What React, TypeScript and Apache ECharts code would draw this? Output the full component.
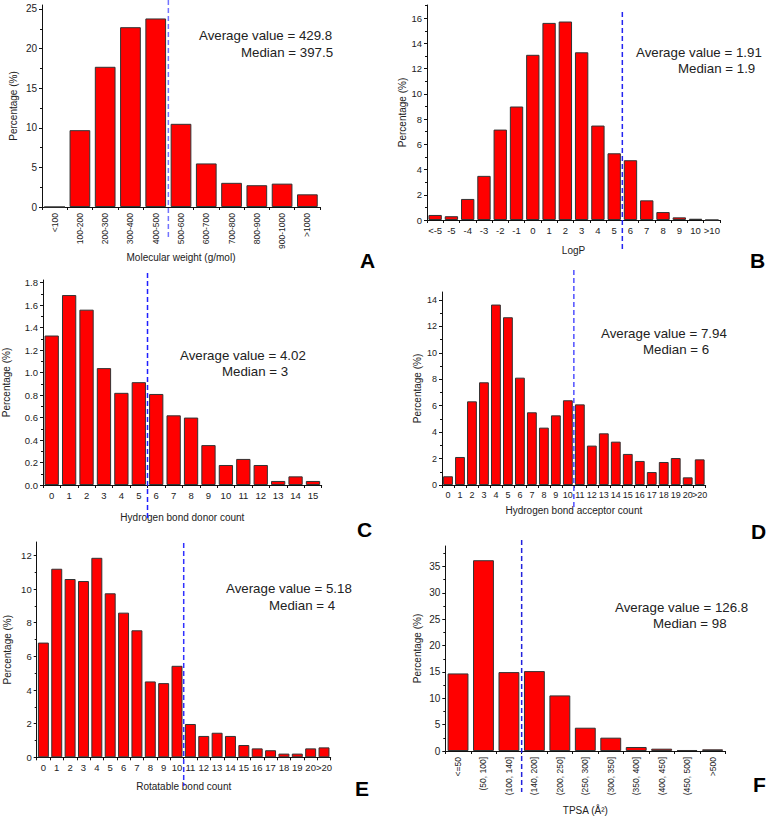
import React, { useEffect, useRef } from "react";
import * as echarts from "echarts";

// ---------- data ----------
const mwCats = ["<100", "100-200", "200-300", "300-400", "400-500", "500-600", "600-700", "700-800", "800-900", "900-1000", ">1000"];
const mwVals = [0, 9.7, 17.7, 22.7, 23.8, 10.5, 5.5, 3.05, 2.75, 2.95, 1.6];

const logpCats = ["<-5", "-5", "-4", "-3", "-2", "-1", "0", "1", "2", "3", "4", "5", "6", "7", "8", "9", "10", ">10"];
const logpVals = [0.4, 0.3, 1.67, 3.5, 7.17, 9.0, 13.1, 15.63, 15.74, 13.3, 7.49, 5.29, 4.74, 1.56, 0.63, 0.21, 0.1, 0];

const hbdCats = ["0", "1", "2", "3", "4", "5", "6", "7", "8", "9", "10", "11", "12", "13", "14", "15"];
const hbdVals = [1.33, 1.69, 1.56, 1.04, 0.82, 0.915, 0.81, 0.62, 0.6, 0.355, 0.178, 0.232, 0.178, 0.036, 0.077, 0.036];

const hbaCats = ["0", "1", "2", "3", "4", "5", "6", "7", "8", "9", "10", "11", "12", "13", "14", "15", "16", "17", "18", "19", "20", ">20"];
const hbaVals = [0.66, 2.12, 6.33, 7.77, 13.65, 12.69, 8.12, 5.5, 4.34, 5.27, 6.41, 6.1, 2.98, 3.91, 3.28, 2.35, 1.82, 0.98, 1.74, 2.04, 0.58, 1.94];

const rbCats = ["0", "1", "2", "3", "4", "5", "6", "7", "8", "9", "10", "11", "12", "13", "14", "15", "16", "17", "18", "19", "20", ">20"];
const rbVals = [6.82, 11.21, 10.6, 10.48, 11.86, 9.75, 8.6, 7.55, 4.51, 4.41, 5.44, 1.98, 1.27, 1.46, 1.27, 0.73, 0.53, 0.42, 0.22, 0.22, 0.53, 0.59];

const tpsaCats = ["<=50", "(50, 100]", "(100, 140]", "(140, 200]", "(200, 250]", "(250, 300]", "(300, 350]", "(350, 400]", "(400, 450]", "(450, 500]", ">500"];
const tpsaVals = [14.72, 36.2, 14.97, 15.16, 10.55, 4.42, 2.53, 0.76, 0.44, 0.19, 0.32];

const xNames = ["Molecular weight (g/mol)", "LogP", "Hydrogen bond donor count", "Hydrogen bond acceptor count", "Rotatable bond count", "TPSA (Å²)"];
const averages = ["429.8", "1.91", "4.02", "7.94", "5.18", "126.8"];
const medians = ["397.5", "1.9", "3", "6", "4", "98"];
const letters = ["A", "B", "C", "D", "E", "F"];
// dashed line sits after this category index (between index and index+1)
const lineAfter = [4, 11, 5, 10, 10, 2];
// y tick labels: last labelled tick and step
const yTickMax = [25, 16, 1.8, 14, 12, 35];
const yStep = [5, 2, 0.2, 2, 2, 5];
// value where each y axis line ends
const yAxisTop = [25.5, 17.05, 1.824, 14.6, 12.8, 38.9];

const cats = [mwCats, logpCats, hbdCats, hbaCats, rbCats, tpsaCats];
const vals = [mwVals, logpVals, hbdVals, hbaVals, rbVals, tpsaVals];

// ---------- layout (style only) ----------
const FONT = "Liberation Sans, Arial, sans-serif";
const layout = [
  { left: 42, top: 5, bottom: 207, right: 320, rot: 90, xFs: 8.5, yFs: 10, xGap: 45, yGap: 24, lineColor: "#7373ff", lineTop: 0, lineBottom: 240,
    avg: [199, 35], med: [241, 52], letter: [360, 260] },
  { left: 427, top: 5, bottom: 220, right: 720, rot: 0, xFs: 9.5, yFs: 9.5, xGap: 25, yGap: 20, lineColor: "#2424f0", lineTop: 12, lineBottom: 252,
    avg: [636, 52], med: [678, 68], letter: [750, 260] },
  { left: 42.7, top: 280, bottom: 485, right: 321.7, rot: 0, xFs: 9.5, yFs: 9.5, xGap: 27, yGap: 32, lineColor: "#1f1fff", lineTop: 273, lineBottom: 518,
    avg: [180, 355], med: [222, 371], letter: [357, 529] },
  { left: 442, top: 292, bottom: 485, right: 705.7, rot: 0, xFs: 9, yFs: 9, xGap: 20, yGap: 20, lineColor: "#5050ff", lineTop: 270, lineBottom: 510,
    avg: [601, 333], med: [643, 349], letter: [751, 531] },
  { left: 36.7, top: 542, bottom: 757.3, right: 330.7, rot: 0, xFs: 9.5, yFs: 9.5, xGap: 24, yGap: 24, lineColor: "#3030ff", lineTop: 543, lineBottom: 786,
    avg: [226, 588], med: [269, 605], letter: [355, 788] },
  { left: 445.3, top: 546, bottom: 751, right: 725.3, rot: 90, xFs: 8.5, yFs: 10, xGap: 54, yGap: 23, lineColor: "#2222dd", lineTop: 540, lineBottom: 792,
    avg: [615, 607], med: [653, 623], letter: [753, 784] },
];

function tickList(max: number, step: number) {
  const out: number[] = [];
  const n = Math.round(max / step);
  for (let k = 0; k <= n; k++) out.push(Math.round(k * step * 1000) / 1000);
  return out;
}

export default function App() {
  const ref = useRef<HTMLDivElement>(null);
  useEffect(() => {
    if (!ref.current) return;
    const chart = echarts.init(ref.current, undefined, { renderer: "svg" });
    const grids: any[] = [];
    const xAxes: any[] = [];
    const yAxes: any[] = [];
    const series: any[] = [];
    layout.forEach((L, i) => {
      grids.push({ left: L.left, top: L.top, width: L.right - L.left, height: L.bottom - L.top, containLabel: false });
      xAxes.push({
        type: "category",
        gridIndex: i,
        data: cats[i],
        boundaryGap: true,
        name: xNames[i],
        nameLocation: "middle",
        nameGap: L.xGap,
        nameTextStyle: { fontFamily: FONT, fontSize: 10, color: "#222" },
        axisLine: { lineStyle: { color: "#111", width: 1 } },
        axisTick: { show: true, length: 3, alignWithLabel: false, interval: 0, lineStyle: { color: "#111" } },
        axisLabel: { interval: 0, rotate: L.rot, margin: L.rot ? 6 : 5, fontFamily: FONT, fontSize: L.xFs, color: "#222", hideOverlap: false },
        splitLine: { show: false },
      });
      const ticks = tickList(yTickMax[i], yStep[i]);
      yAxes.push({
        type: "value",
        gridIndex: i,
        min: 0,
        max: yAxisTop[i],
        interval: yStep[i],
        name: "Percentage (%)",
        nameLocation: "middle",
        nameGap: L.yGap,
        nameTextStyle: { fontFamily: FONT, fontSize: 10, color: "#222" },
        axisLine: { show: true, lineStyle: { color: "#111", width: 1 } },
        axisTick: { show: true, length: 3, customValues: ticks, lineStyle: { color: "#111" } },
        minorTick: { show: true, splitNumber: 2, length: 2, lineStyle: { color: "#111" } },
        axisLabel: {
          margin: 5,
          fontFamily: FONT,
          fontSize: L.yFs,
          color: "#222",
          customValues: ticks,
          formatter: (v: number) => (i === 2 ? v.toFixed(1) : String(Math.round(v * 100) / 100)),
        },
        splitLine: { show: false },
      });
      series.push({
        type: "bar",
        xAxisIndex: i,
        yAxisIndex: i,
        data: vals[i],
        barCategoryGap: "18%",
        itemStyle: { color: "#ff0000", borderColor: "#333", borderWidth: 1 },
        silent: true,
      });
    });

    chart.setOption({
      animation: false,
      backgroundColor: "#fff",
      grid: grids,
      xAxis: xAxes,
      yAxis: yAxes,
      series,
    });

    const graphics: any[] = [];
    layout.forEach((L, i) => {
      const c = cats[i];
      const k = lineAfter[i];
      const p1 = chart.convertToPixel({ gridIndex: i }, [c[k], 0]) as number[];
      const p2 = chart.convertToPixel({ gridIndex: i }, [c[k + 1], 0]) as number[];
      const x = (p1[0] + p2[0]) / 2;
      graphics.push({
        type: "line",
        z: 50,
        shape: { x1: x, y1: L.lineTop, x2: x, y2: L.lineBottom },
        style: { stroke: L.lineColor, lineWidth: 1.5, lineDash: [5, 3] },
      });
      graphics.push({
        type: "text",
        x: L.avg[0],
        y: L.avg[1],
        z: 60,
        style: { text: "Average value = " + averages[i], fontSize: 13.3, fontFamily: FONT, fill: "#222", align: "left", verticalAlign: "middle" },
      });
      graphics.push({
        type: "text",
        x: L.med[0],
        y: L.med[1],
        z: 60,
        style: { text: "Median = " + medians[i], fontSize: 13.3, fontFamily: FONT, fill: "#222", align: "left", verticalAlign: "middle" },
      });
      graphics.push({
        type: "text",
        x: L.letter[0],
        y: L.letter[1],
        z: 60,
        style: { text: letters[i], fontSize: 21, fontWeight: "bold", fontFamily: FONT, fill: "#000", align: "left", verticalAlign: "middle" },
      });
    });
    chart.setOption({ graphic: graphics });

    return () => chart.dispose();
  }, []);
  return <div ref={ref} style={{ position: "absolute", left: 0, top: 0, width: 766, height: 816 }} />;
}
